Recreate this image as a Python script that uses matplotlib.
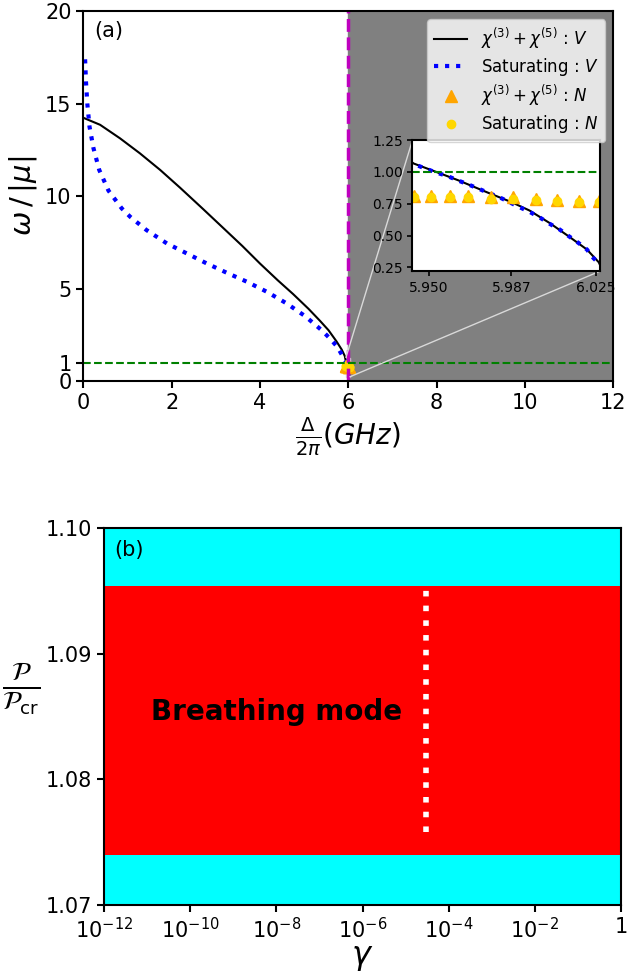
import matplotlib
matplotlib.use('Agg')
import matplotlib.pyplot as plt
from matplotlib.ticker import NullLocator
from mpl_toolkits.axes_grid1.inset_locator import mark_inset

# (a) normalised frequency vs detuning
delta_cubic = [0.0, 0.38, 0.83, 1.28, 1.74, 2.19, 2.71, 3.2, 3.6, 4.0, 4.4, 4.75, 5.1, 5.36,
               5.55, 5.73, 5.85, 5.92,
               5.9432, 5.9533, 5.9632, 5.9769, 5.987, 5.9951, 6.0042, 6.0130, 6.0209,
               6.0262, 6.027]
omega_cubic = [14.23, 13.85, 13.12, 12.31, 11.41, 10.45, 9.3, 8.2, 7.3, 6.35, 5.45, 4.7, 3.9, 3.25,
               2.75, 2.15, 1.7, 1.35,
               1.066, 1.0, 0.934, 0.834, 0.763, 0.697, 0.598, 0.49, 0.39,
               0.29, 0.26]

delta_sat = [0.04, 0.06, 0.09, 0.14, 0.23, 0.36, 0.57, 0.87, 1.06, 1.43, 1.89, 2.34, 2.79,
             3.24, 3.70, 4.15, 4.60, 5.02, 5.39, 5.58, 5.75, 5.88,
             5.9438, 5.9485, 5.9533, 5.9583, 5.9629, 5.9675, 5.9723, 5.9769, 5.9814,
             5.9860, 5.9905, 5.9954, 6.0000, 6.0042, 6.0087, 6.0130, 6.0171, 6.0209,
             6.0239, 6.0267]
omega_sat = [17.39, 16.18, 15.0, 13.75, 12.58, 11.41, 10.29, 9.33, 8.88, 8.16, 7.44, 6.9, 6.36,
             5.86, 5.37, 4.83, 4.2, 3.51, 2.76, 2.31, 1.85, 1.31,
             1.058, 1.026, 0.995, 0.968, 0.934, 0.903, 0.868, 0.834, 0.803,
             0.763, 0.724, 0.684, 0.639, 0.592, 0.547, 0.492, 0.442, 0.39,
             0.321, 0.276]

delta_n = [5.9431, 5.9510, 5.9593, 5.9677, 5.9778, 5.9879, 5.9981, 6.0076, 6.0173, 6.0261]
n_cubic = [0.81, 0.81, 0.81, 0.81, 0.80, 0.80, 0.79, 0.78, 0.775, 0.77]
n_sat = [0.80, 0.80, 0.80, 0.80, 0.79, 0.79, 0.78, 0.77, 0.765, 0.76]

delta_cut = 6.0
omega_ref = 1.0

# (b) phase diagram
gamma_range = [1e-12, 1.0]
p_low = 1.0740
p_high = 1.0954
gamma_line = 3e-5
p_line = [1.0758, 1.0953]
gamma_ticks = [1e-12, 1e-10, 1e-8, 1e-6, 1e-4, 1e-2, 1.0]
gamma_labels = ['$10^{-12}$', '$10^{-10}$', '$10^{-8}$', '$10^{-6}$', '$10^{-4}$', '$10^{-2}$', '$1$']

fig = plt.figure(figsize=(6.27, 9.76), dpi=100)

# Panel (a)
ax1 = fig.add_axes([0.1329, 0.6096, 0.8453, 0.3791])
ax1.axvspan(delta_cut, 12, color='gray', zorder=0)
ax1.plot(delta_cubic, omega_cubic, 'k-', lw=1.5, label=r'$\chi^{(3)}+\chi^{(5)}$ : $V$')
ax1.plot(delta_sat, omega_sat, 'b:', lw=3, label=r'Saturating : $V$')
ax1.plot(delta_n, n_cubic, '^', color='orange', ms=9, ls='none', label=r'$\chi^{(3)}+\chi^{(5)}$ : $N$')
ax1.plot(delta_n, n_sat, 'o', color='gold', ms=6, ls='none', label=r'Saturating : $N$')
ax1.axvline(delta_cut, color='m', ls='--', lw=2.5)
ax1.axhline(omega_ref, color='g', ls='--', lw=1.5)
ax1.set_xlim(0, 12)
ax1.set_ylim(0, 20)
ax1.set_yticks([0, 1, 5, 10, 15, 20])
ax1.tick_params(labelsize=15, width=1.5, length=5)
ax1.set_xlabel(r'$\frac{\Delta}{2\pi}(GHz)$', fontsize=20, labelpad=2)
ax1.set_ylabel(r'$\omega\,/\,|\mu|$', fontsize=21)
ax1.text(0.02, 0.945, '(a)', transform=ax1.transAxes, fontsize=15, va='center')
ax1.legend(loc='upper right', fontsize=12, labelspacing=0.3)
for s in ax1.spines.values():
    s.set_linewidth(1.5)

axins = ax1.inset_axes([0.621, 0.297, 0.354, 0.354])
axins.set_facecolor('white')
axins.plot(delta_cubic, omega_cubic, 'k-', lw=1.5)
axins.plot(delta_sat, omega_sat, 'b:', lw=3)
axins.plot(delta_n, n_cubic, '^', color='orange', ms=9, ls='none')
axins.plot(delta_n, n_sat, 'o', color='gold', ms=6, ls='none')
axins.axhline(omega_ref, color='g', ls='--', lw=1.5)
axins.set_xlim(5.9426, 6.0268)
axins.set_ylim(0.22, 1.25)
axins.set_xticks([5.950, 5.987, 6.025])
axins.set_xticklabels(['5.950', '5.987', '6.025'])
axins.set_yticks([0.25, 0.5, 0.75, 1.0, 1.25])
axins.set_yticklabels(['0.25', '0.50', '0.75', '1.00', '1.25'])
axins.tick_params(labelsize=10, width=1.2)
for s in axins.spines.values():
    s.set_linewidth(1.5)
mark_inset(ax1, axins, loc1=2, loc2=4, fc='none', ec='0.85', lw=1)

# Panel (b)
ax2 = fig.add_axes([0.1659, 0.0727, 0.8246, 0.3863])
ax2.set_xscale('log')
ax2.fill_between(gamma_range, 1.07, 1.10, color='cyan', lw=0)
ax2.fill_between(gamma_range, p_low, p_high, color='red', lw=0)
ax2.plot([gamma_line, gamma_line], p_line, color='white', ls=':', lw=4)
ax2.text(0.333, 0.513, 'Breathing mode', transform=ax2.transAxes, fontsize=20,
         fontweight='bold', ha='center', va='center')
ax2.text(0.02, 0.942, '(b)', transform=ax2.transAxes, fontsize=15, va='center')
ax2.set_xlim(1e-12, 1)
ax2.set_ylim(1.07, 1.10)
ax2.set_xticks(gamma_ticks)
ax2.set_xticklabels(gamma_labels)
ax2.xaxis.set_minor_locator(NullLocator())
ax2.set_yticks([1.07, 1.08, 1.09, 1.10])
ax2.set_yticklabels(['1.07', '1.08', '1.09', '1.10'])
ax2.tick_params(labelsize=15, width=1.5, length=5)
ax2.set_xlabel(r'$\gamma$', fontsize=23, labelpad=0)
ax2.set_ylabel(r'$\frac{\mathcal{P}}{\mathcal{P}_{\rm cr}}$', fontsize=27, rotation=0, va='center')
ax2.yaxis.set_label_coords(-0.16, 0.575)
for s in ax2.spines.values():
    s.set_linewidth(1.5)

plt.savefig('out.png', dpi=100)
